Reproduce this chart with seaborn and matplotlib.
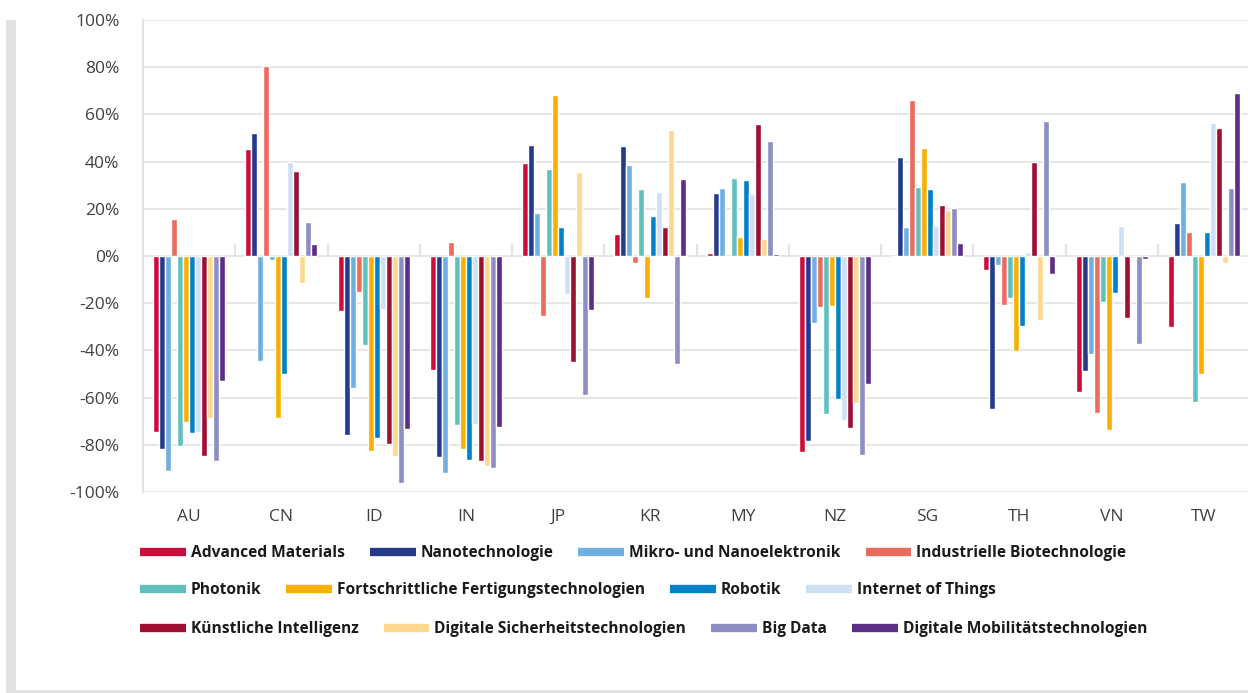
import numpy as np
import pandas as pd
import matplotlib
matplotlib.use("Agg")
import matplotlib.pyplot as plt
from matplotlib.lines import Line2D
from matplotlib.patches import Rectangle
import seaborn as sns

countries = ["AU", "CN", "ID", "IN", "JP", "KR", "MY", "NZ", "SG", "TH", "VN", "TW"]
technologies = [
    "Advanced Materials", "Nanotechnologie", "Mikro- und Nanoelektronik",
    "Industrielle Biotechnologie", "Photonik", "Fortschrittliche Fertigungstechnologien",
    "Robotik", "Internet of Things", "Künstliche Intelligenz",
    "Digitale Sicherheitstechnologien", "Big Data", "Digitale Mobilitätstechnologien",
]
colors = ["#CC0C3B", "#233A8D", "#70AFDF", "#EC6A5E", "#60C0BE", "#F9B000",
          "#0081C9", "#CDE0F4", "#9E0F31", "#FDD88F", "#8C8EC4", "#5C2E88"]

advanced_materials = [-74.6, 45.4, -23.4, -48.4, 39.5, 9.4, 1.4, -83.1, -0.3, -6.1, -57.7, -30.2]
nanotechnologie = [-81.8, 52.2, -75.9, -85.2, 47.1, 46.7, 26.8, -78.4, 42.0, -64.9, -48.8, 14.1]
mikro_nanoelektronik = [-91.1, -44.6, -56.0, -92.0, 18.3, 38.6, 28.9, -28.5, 12.4, -3.9, -41.6, 31.5]
industrielle_biotech = [15.8, 80.5, -15.4, 6.1, -25.5, -3.1, -0.3, -21.7, 66.1, -20.9, -66.6, 10.3]
photonik = [-80.5, -1.8, -37.8, -71.7, 37.0, 28.5, 33.1, -67.0, 29.3, -17.9, -19.6, -61.9]
fertigung = [-70.4, -68.7, -82.7, -81.8, 68.3, -17.9, 8.2, -21.3, 45.8, -40.3, -73.8, -50.1]
robotik = [-75.0, -50.1, -77.2, -86.5, 12.4, 17.1, 32.3, -60.6, 28.5, -29.8, -15.8, 10.3]
internet_of_things = [-74.6, 39.9, -22.6, -71.2, -16.2, 27.2, 26.4, -69.5, 12.8, 1.8, 12.8, 56.4]
kuenstliche_intelligenz = [-84.8, 36.1, -79.7, -86.9, -45.0, 12.4, 56.0, -72.9, 21.7, 39.9, -26.4, 54.3]
digitale_sicherheit = [-68.7, -11.6, -84.8, -89.0, 35.7, 53.5, 7.3, -62.3, 19.6, -27.2, -1.0, -3.1]
big_data = [-86.9, 14.5, -96.2, -89.8, -59.0, -45.8, 48.8, -84.3, 20.5, 57.3, -37.4, 28.9]
digitale_mobilitaet = [-53.0, 5.2, -73.3, -72.5, -23.0, 32.7, 1.0, -54.3, 5.6, -7.8, -1.4, 69.1]

series = [advanced_materials, nanotechnologie, mikro_nanoelektronik, industrielle_biotech,
          photonik, fertigung, robotik, internet_of_things, kuenstliche_intelligenz,
          digitale_sicherheit, big_data, digitale_mobilitaet]

y_ticks = [-100, -80, -60, -40, -20, 0, 20, 40, 60, 80, 100]

rows = []
for tech, vals in zip(technologies, series):
    for c, v in zip(countries, vals):
        rows.append({"Land": c, "Technologie": tech, "Wert": v})
df = pd.DataFrame(rows)

sns.set_theme(style="white")
tick_font = ["Open Sans", "DejaVu Sans"]
plt.rcParams["font.family"] = tick_font

W, H = 1248, 693
fig = plt.figure(figsize=(W / 100, H / 100), dpi=100)
ax = fig.add_axes([143 / W, 1 - 492 / H, (1250 - 143) / W, (492 - 20) / H])

sns.barplot(data=df, x="Land", y="Wert", hue="Technologie", hue_order=technologies,
            order=countries, palette=colors, width=0.78, gap=0, ax=ax,
            legend=False, saturation=1, errorbar=None, zorder=3)

ax.set_ylim(-100, 100)
ax.set_xlim(-0.5, len(countries) - 0.5)
ax.set_yticks(y_ticks)
ax.set_yticklabels([f"{t}%" for t in y_ticks])
ax.set_xlabel("")
ax.set_ylabel("")
ax.yaxis.grid(True, color="#E6E6E6", linewidth=1.4, zorder=0)
ax.set_axisbelow(True)
for s in ["top", "right", "bottom"]:
    ax.spines[s].set_visible(False)
ax.spines["left"].set_color("#E3E3E3")
ax.spines["left"].set_linewidth(1.4)
ax.tick_params(axis="y", length=0, pad=17, labelsize=12.5, labelcolor="#404040")
ax.tick_params(axis="x", length=0, pad=12, labelsize=12.5, labelcolor="#404040")

# category separator ticks at zero line
ax.vlines(np.arange(len(countries) - 1) + 0.5, 0, 5, colors="#E3E3E3", linewidth=1.6, zorder=2)

# figure borders
fig.patches.append(Rectangle((6 / W, 0), 10 / W, 1 - 20 / H, transform=fig.transFigure,
                             facecolor="#E2E2E2", edgecolor="none", zorder=0))
fig.patches.append(Rectangle((6 / W, 0), 1, 3 / H, transform=fig.transFigure,
                             facecolor="#E2E2E2", edgecolor="none", zorder=0))

# legend in three rows
leg_rows = [[0, 1, 2, 3], [4, 5, 6, 7], [8, 9, 10, 11]]
leg_y = [553, 590, 629]
for idxs, yy in zip(leg_rows, leg_y):
    handles = [Line2D([0], [0], color=colors[i], lw=6, solid_capstyle="butt") for i in idxs]
    labels = [technologies[i] for i in idxs]
    leg = fig.legend(handles, labels, loc="center left", bbox_to_anchor=(140 / W, 1 - yy / H),
                     ncol=4, frameon=False, handlelength=2.95, handletextpad=0.32,
                     columnspacing=1.6, borderaxespad=0, borderpad=0,
                     prop={"family": tick_font, "weight": "bold", "size": 11.2})
    for t in leg.get_texts():
        t.set_color("#1A1A1A")

fig.savefig("out.png", dpi=100)
